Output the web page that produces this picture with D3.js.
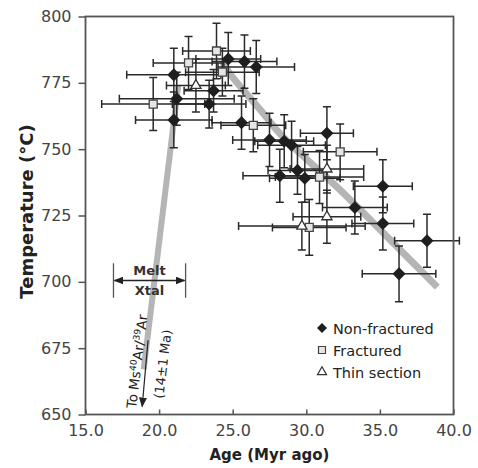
<!DOCTYPE html>
<html>
<head>
<meta charset="utf-8">
<script src="https://cdn.jsdelivr.net/npm/d3@7"></script>
<style>
	body { margin: 0; background: #fff; }
	text { font-family: "DejaVu Sans", sans-serif; }
</style>
</head>
<body>
<div id="chart"></div>
<script>
// [age (Myr), temperature (°C), age error, temperature error]
const nonFractured = [
	[21.0, 778, 3.2, 10], [21.2, 769, 3.9, 10], [21.0, 761, 2.6, 10.5],
	[23.4, 767, 2.5, 9], [23.7, 772, 2.0, 8], [24.7, 784, 2.2, 10],
	[25.8, 783, 2.2, 10], [26.6, 781, 2.6, 10], [25.6, 760, 2.0, 10],
	[27.5, 753.5, 2.5, 10], [28.5, 753, 2.0, 10], [29.0, 751.5, 2.3, 9],
	[31.4, 756, 1.8, 10], [28.2, 740, 2.5, 10], [29.4, 742, 2.0, 9],
	[29.9, 739, 2.4, 9], [35.2, 736, 2.0, 10], [33.3, 728, 2.2, 10],
	[35.2, 722, 2.1, 10], [38.2, 715.5, 2.2, 10], [36.3, 703, 2.5, 10.5]
];
const fractured = [
	[19.6, 767, 3.5, 10], [22.0, 782.5, 2.4, 10], [23.9, 787, 2.3, 10.5],
	[24.3, 779, 2.5, 9], [26.4, 759, 2.2, 10], [32.3, 749, 2.5, 10.5],
	[30.9, 739.5, 3.0, 10], [30.2, 720.5, 2.5, 10.5]
];
const thinSection = [
	[22.5, 774, 2.0, 10], [31.4, 742.5, 2.5, 9],
	[31.4, 724.5, 2.3, 10], [29.7, 721, 4.3, 9]
];

// grey trend bands
const meltBand = [[21.3, 774], [18.95, 667]];
const coolBand = [[24.3, 783], [24.8, 778.5], [27.0, 764], [28.4, 754.7], [32.3, 734.6], [36.6, 710.8], [38.9, 698]];

const xTicks = [15, 20, 25, 30, 35, 40];
const yTicks = [650, 675, 700, 725, 750, 775, 800];
const legendLabels = ["Non-fractured", "Fractured", "Thin section"];

const W = 478, H = 468;
const margin = {left: 85.5, top: 16.5, right: 24.5, bottom: 53.5};
const width = W - margin.left - margin.right;
const height = H - margin.top - margin.bottom;

const svg = d3.select("#chart").append("svg")
	.attr("width", W)
	.attr("height", H);

const defs = svg.append("defs");
defs.append("marker")
	.attr("id", "head")
	.attr("markerUnits", "userSpaceOnUse")
	.attr("markerWidth", 10).attr("markerHeight", 8)
	.attr("refX", 9).attr("refY", 4)
	.attr("orient", "auto-start-reverse")
	.append("path")
	.attr("d", "M0,0 L10,4 L0,8 Z")
	.attr("fill", "#222");

const g = svg.append("g")
	.attr("transform", "translate(" + margin.left + "," + margin.top + ")");

const x = d3.scaleLinear().domain([15, 40]).range([0, width]);
const y = d3.scaleLinear().domain([650, 800]).range([height, 0]);

// bands behind everything
const line = d3.line().x(d => x(d[0])).y(d => y(d[1]));
g.append("path")
	.attr("d", line(meltBand))
	.attr("fill", "none").attr("stroke", "#b5b5b5").attr("stroke-width", 6);
g.append("path")
	.attr("d", line.curve(d3.curveCatmullRom.alpha(0.5))(coolBand))
	.attr("fill", "none").attr("stroke", "#b5b5b5").attr("stroke-width", 7);

// arrow down to the muscovite age
g.append("line")
	.attr("x1", x(19.25)).attr("y1", y(678))
	.attr("x2", x(18.85)).attr("y2", y(653))
	.attr("stroke", "#222").attr("stroke-width", 1.2)
	.attr("marker-end", "url(#head)");

const ann = g.append("text")
	.attr("transform", "translate(" + (x(18.5)) + "," + (y(670)) + ") rotate(-83)")
	.attr("text-anchor", "middle").attr("dy", "0.35em")
	.attr("font-size", 13.5).attr("fill", "#222");
ann.append("tspan").text("To Ms");
ann.append("tspan").attr("dy", -5).attr("font-size", 9).text("40");
ann.append("tspan").attr("dy", 5).text("Ar/");
ann.append("tspan").attr("dy", -5).attr("font-size", 9).text("39");
ann.append("tspan").attr("dy", 5).text("Ar");
g.append("text")
	.attr("transform", "translate(" + (x(20.25)) + "," + (y(669)) + ") rotate(-83)")
	.attr("text-anchor", "middle").attr("dy", "0.35em")
	.attr("font-size", 13).attr("fill", "#222")
	.text("(14\u00b11 Ma)");

// Melt / Xtal bracket
const melt = {x0: 16.9, x1: 21.8, t: 700.5, lo: 694, hi: 707};
[melt.x0, melt.x1].forEach(v => {
	g.append("line")
		.attr("x1", x(v)).attr("x2", x(v))
		.attr("y1", y(melt.hi)).attr("y2", y(melt.lo))
		.attr("stroke", "#555").attr("stroke-width", 1.3);
});
g.append("line")
	.attr("x1", x(melt.x0) + 1).attr("x2", x(melt.x1) - 1)
	.attr("y1", y(melt.t)).attr("y2", y(melt.t))
	.attr("stroke", "#222").attr("stroke-width", 1.4)
	.attr("marker-start", "url(#head)")
	.attr("marker-end", "url(#head)");
g.append("text")
	.attr("x", x((melt.x0 + melt.x1) / 2)).attr("y", y(melt.t) - 6)
	.attr("text-anchor", "middle").attr("font-size", 13).attr("font-weight", "bold")
	.attr("fill", "#333").text("Melt");
g.append("text")
	.attr("x", x((melt.x0 + melt.x1) / 2)).attr("y", y(melt.t) + 14)
	.attr("text-anchor", "middle").attr("font-size", 13).attr("font-weight", "bold")
	.attr("fill", "#333").text("Xtal");

// error bars
const all = nonFractured.concat(fractured, thinSection);
const cap = 4;
const bars = g.append("g").attr("stroke", "#2a2a2a").attr("stroke-width", 1.5).attr("fill", "none");
all.forEach(d => {
	const cx = x(d[0]), cy = y(d[1]);
	const xl = x(d[0] - d[2]), xr = x(d[0] + d[2]);
	const yt = y(d[1] + d[3]), yb = y(d[1] - d[3]);
	bars.append("path")
		.attr("d", "M" + xl + "," + cy + "H" + xr +
			"M" + xl + "," + (cy - cap) + "V" + (cy + cap) +
			"M" + xr + "," + (cy - cap) + "V" + (cy + cap) +
			"M" + cx + "," + yt + "V" + yb +
			"M" + (cx - cap) + "," + yt + "H" + (cx + cap) +
			"M" + (cx - cap) + "," + yb + "H" + (cx + cap));
});

// markers (diamond = rotated square)
const square = s => d3.symbol().type(d3.symbolSquare).size(s)();
const triangle = s => d3.symbol().type(d3.symbolTriangle).size(s)();

g.append("g").selectAll("path")
	.data(fractured).enter().append("path")
	.attr("d", square(64))
	.attr("transform", d => "translate(" + x(d[0]) + "," + y(d[1]) + ")")
	.attr("fill", "#e6e6e6").attr("stroke", "#444").attr("stroke-width", 1.3);

g.append("g").selectAll("path")
	.data(thinSection).enter().append("path")
	.attr("d", triangle(45))
	.attr("transform", d => "translate(" + x(d[0]) + "," + y(d[1]) + ")")
	.attr("fill", "#fff").attr("stroke", "#333").attr("stroke-width", 1.3);

g.append("g").selectAll("path")
	.data(nonFractured).enter().append("path")
	.attr("d", square(85))
	.attr("transform", d => "translate(" + x(d[0]) + "," + y(d[1]) + ") rotate(45)")
	.attr("fill", "#1e1e1e");

// axes
const yAxis = d3.axisLeft(y).tickValues(yTicks).tickSize(7).tickSizeOuter(0).tickPadding(7);
const xAxis = d3.axisBottom(x).tickValues(xTicks).tickFormat(d3.format(".1f"))
	.tickSize(-5).tickSizeOuter(0).tickPadding(10.5);

const ya = g.append("g").call(yAxis);
const xa = g.append("g").attr("transform", "translate(0," + height + ")").call(xAxis);
[ya, xa].forEach(a => {
	a.select(".domain").remove();
	a.selectAll(".tick line").attr("stroke", "#555").attr("stroke-width", 1.5);
	a.selectAll(".tick text").attr("fill", "#444").attr("font-size", 16)
		.style("font-family", "'DejaVu Sans', sans-serif");
});

g.append("rect")
	.attr("width", width).attr("height", height)
	.attr("fill", "none").attr("stroke", "#555").attr("stroke-width", 1.8);

// axis titles
svg.append("text")
	.attr("transform", "translate(33," + (margin.top + height / 2 - 4) + ") rotate(-90)")
	.attr("text-anchor", "middle").attr("font-size", 18).attr("font-weight", "bold")
	.attr("fill", "#222").text("Temperature (\u00b0C)");
svg.append("text")
	.attr("x", margin.left + width / 2).attr("y", 460)
	.attr("text-anchor", "middle").attr("font-size", 15).attr("font-weight", "bold")
	.attr("fill", "#222").text("Age (Myr ago)");

// legend
const legend = svg.append("g").attr("transform", "translate(322,328)");
const legendShapes = [
	{d: square(50), rot: 45, fill: "#1e1e1e", stroke: "none"},
	{d: square(49), rot: 0, fill: "#e6e6e6", stroke: "#444"},
	{d: triangle(35), rot: 0, fill: "#fff", stroke: "#333"}
];
legendLabels.forEach((label, i) => {
	const row = legend.append("g").attr("transform", "translate(0," + (i * 22) + ")");
	const s = legendShapes[i];
	row.append("path")
		.attr("d", s.d)
		.attr("transform", "rotate(" + s.rot + ")")
		.attr("fill", s.fill).attr("stroke", s.stroke).attr("stroke-width", 1.2);
	row.append("text")
		.attr("x", 11).attr("y", 5.5)
		.attr("font-size", 14.5).attr("fill", "#222")
		.text(label);
});
</script>
</body>
</html>
